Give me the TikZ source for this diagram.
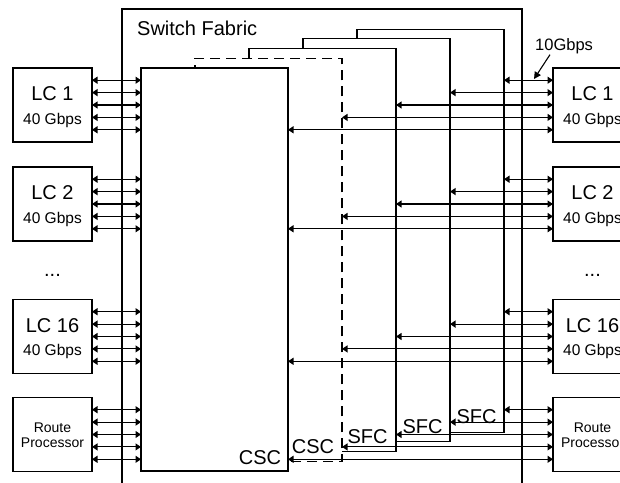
\documentclass[tikz,border=0pt]{standalone}
\usepackage{fontspec}
\setmainfont{Liberation Sans}
\usetikzlibrary{arrows.meta,calc}
\begin{document}
\begin{tikzpicture}[x=1pt,y=-1pt,
  box/.style={draw, line width=1.1pt, fill=white, inner sep=0pt, outer sep=0pt},
  fab/.style={box, anchor=north west, minimum width=147pt, minimum height=403pt},
  lcbox/.style={box, anchor=center, minimum width=79pt, minimum height=74pt},
  bigtxt/.style={inner sep=0pt, anchor=base, font=\fontsize{20}{24}\selectfont},
  ratetxt/.style={inner sep=0pt, anchor=base, font=\fontsize{15.5}{18}\selectfont},
  rptxt/.style={inner sep=0pt, anchor=base, font=\fontsize{14}{16}\selectfont},
  link/.style={line width=1.1pt, {Triangle[length=5.5pt,width=7pt]}-{Triangle[length=5.5pt,width=7pt]}},
  dashbox/.style={fab, dash pattern=on 10pt off 6pt}]
\useasboundingbox (0,0) rectangle (620,482);
\clip (0,0) rectangle (620,482);

% switch fabric enclosure
\node[draw, line width=1.1pt, inner sep=0pt, outer sep=0pt, anchor=north west,
      minimum width=400pt, minimum height=500pt] (sf) at (122,9) {};
\node[bigtxt, anchor=base west] (sftxt) at (137,35) {Switch Fabric};

% stacked cards (back to front)
\node[fab] (sfc3) at (357,29.2) {};
\node[fab] (sfc2) at (303,38.9) {};
\node[fab] (sfc1) at (249,48.6) {};
\node[dashbox] (cscb) at (195,58.3) {};
\node[fab] (csc) at (141,68) {};

% card labels
\node[bigtxt] (lsfc3) at (476.5,423) {SFC};
\node[bigtxt] (lsfc2) at (422.5,433) {SFC};
\node[bigtxt] (lsfc1) at (367.5,443) {SFC};
\node[bigtxt] (lcscb) at (313,453) {CSC};
\node[bigtxt] (lcsc) at (260,464) {CSC};

% line cards
\foreach \n/\y/\t in {1/105/LC 1, 2/204/LC 2, 16/336.5/LC 16} {
  \node[lcbox] (L\n) at (52.5,\y) {};
  \node[bigtxt] (Lt\n) at (52.5,{\y-4.5}) {\t};
  \node[ratetxt] (Lr\n) at (52.5,{\y+19}) {40 Gbps};
  \node[lcbox] (R\n) at (592.5,\y) {};
  \node[bigtxt] (Rt\n) at (592.5,{\y-4.5}) {\t};
  \node[ratetxt] (Rr\n) at (592.5,{\y+19}) {40 Gbps};
}
\node[lcbox] (LRP) at (52.5,434.5) {};
\node[rptxt] (LRPa) at (52.5,432) {Route};
\node[rptxt] (LRPb) at (52.5,447) {Processor};
\node[lcbox] (RRP) at (592.5,434.5) {};
\node[rptxt] (RRPa) at (592.5,432) {Route};
\node[rptxt] (RRPb) at (592.5,447) {Processor};

\node[bigtxt] (ldots) at (52.5,276.5) {...};
\node[bigtxt] (rdots) at (592.5,276.5) {...};

% links, left side
\foreach \b in {L1,L2,L16,LRP} {
  \foreach \d in {-24.8,-12.4,0,12.4,24.8} {
    \path ($(\b.east)+(0,\d)$) coordinate (s);
    \draw[link] (s) -- (s -| csc.west);
  }
}
% links, right side
\foreach \b in {R1,R2,R16,RRP} {
  \foreach \d/\c in {-24.8/sfc3,-12.4/sfc2,0/sfc1,12.4/cscb,24.8/csc} {
    \path ($(\b.west)+(0,\d)$) coordinate (s);
    \draw[link] (s -| \c.east) -- (s);
  }
}

% 10Gbps annotation
\node[inner sep=0pt, anchor=base west, font=\fontsize{16.5}{19}\selectfont] (gbps) at (535,50) {10Gbps};
\coordinate (gtip) at (534,79);
\draw[line width=1.1pt, -{Triangle[length=7pt,width=7pt]}] ([xshift=15pt,yshift=-1pt]gbps.south west) -- (gtip);
\end{tikzpicture}
\end{document}
